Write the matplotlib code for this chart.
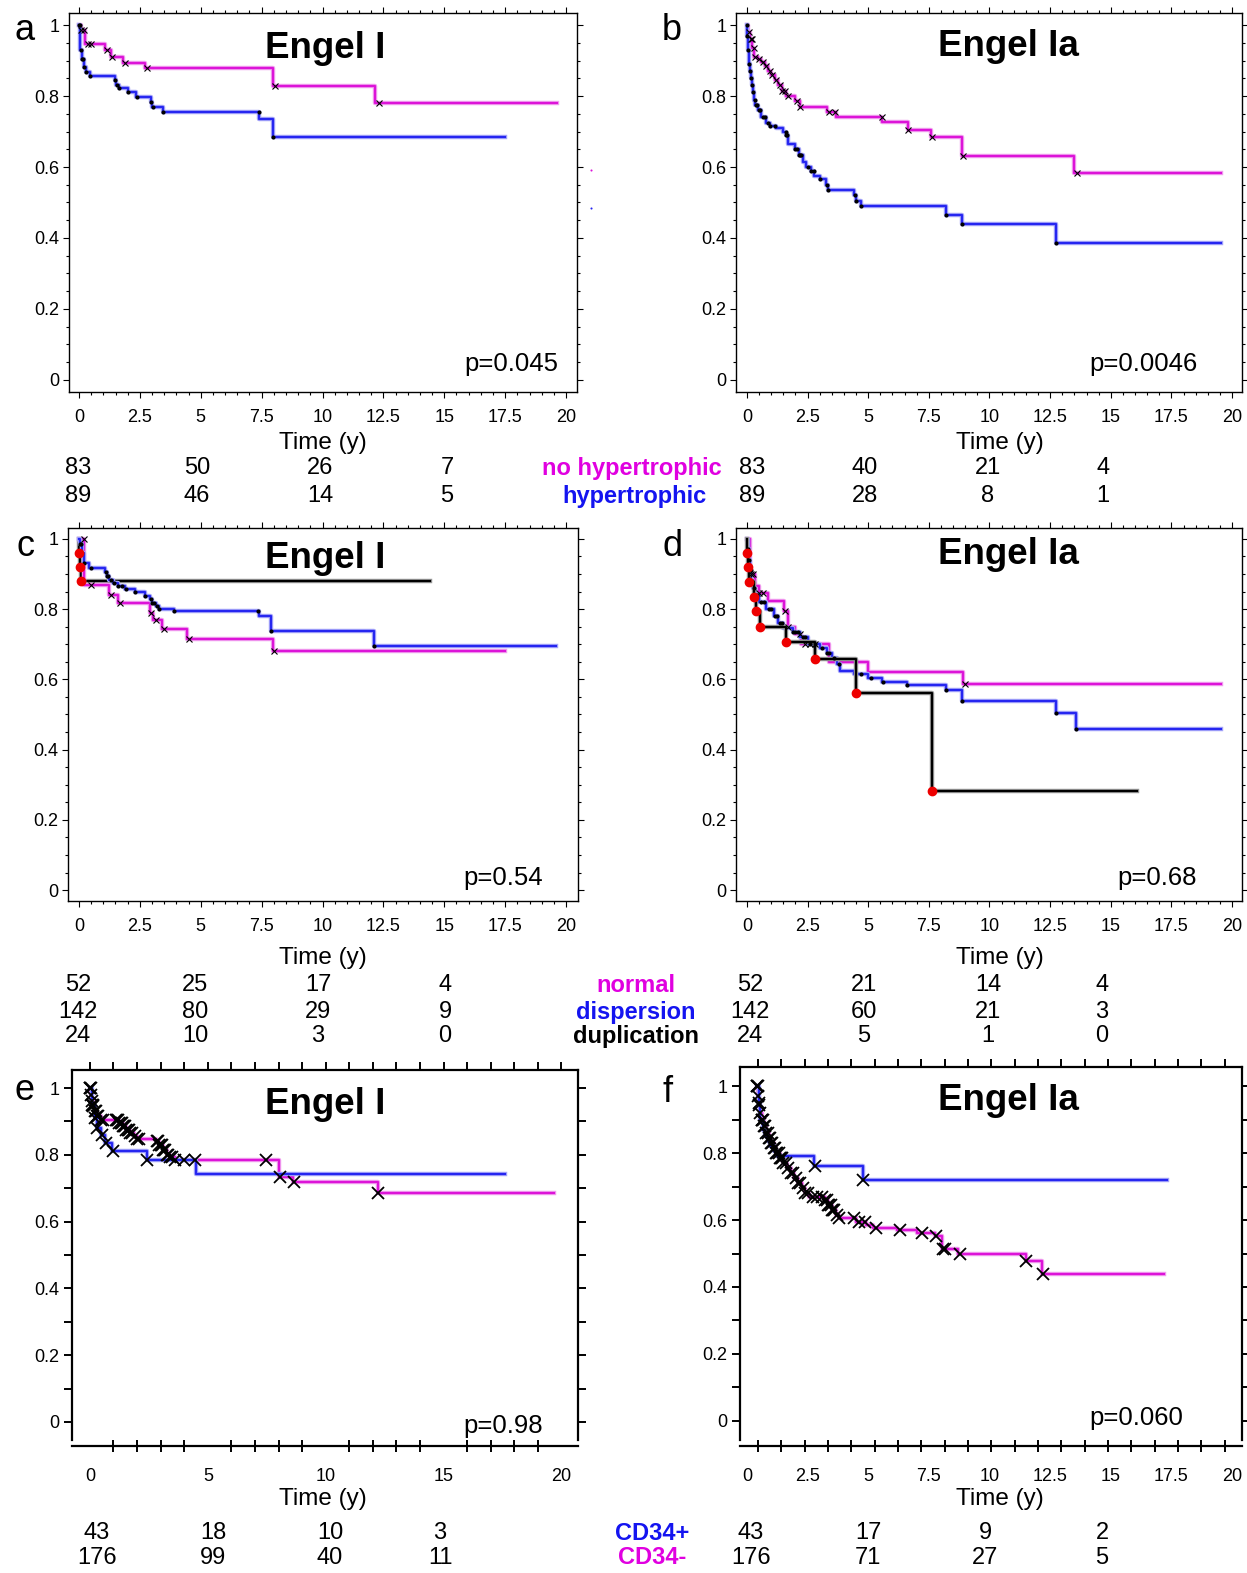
import numpy as np
import matplotlib
matplotlib.use("Agg")
import matplotlib.pyplot as plt
import matplotlib.patheffects as pe
from matplotlib.lines import Line2D

plt.rcParams['font.family'] = ['Liberation Sans', 'DejaVu Sans']

W, H = 1247, 1573
MAG = '#dc14d8'
BLU = '#2626f0'
MAG_T = '#e000e0'
BLU_T = '#1414f0'

# ---------------- data ----------------
# panel a : Engel I, no hypertrophic / hypertrophic
a_mag_t = [0.08, 0.23, 1.07, 1.3, 1.8, 2.72, 7.96, 12.16]
a_mag_s = [0.986, 0.947, 0.93, 0.911, 0.894, 0.88, 0.829, 0.779]
a_mag_end = 19.64
a_mag_c = [0.1, 0.22, 0.35, 0.5, 1.15, 1.35, 1.87, 2.8, 8.05, 12.3]
a_blu_t = [0.04, 0.12, 0.2, 0.28, 0.44, 1.46, 1.54, 1.65, 2.0, 2.36, 2.96, 3.0, 3.43, 7.4, 7.96]
a_blu_s = [0.93, 0.903, 0.883, 0.868, 0.857, 0.845, 0.831, 0.822, 0.812, 0.796, 0.784, 0.77, 0.755, 0.735, 0.685]
a_blu_end = 17.5
a_blu_c = [0.0, 0.03, 0.07, 0.12, 0.17, 0.22, 0.28, 0.45, 1.47, 1.55, 1.65, 2.02, 2.37, 2.97, 3.02, 3.45, 7.38, 7.97]

# panel b : Engel Ia, no hypertrophic / hypertrophic
b_mag_t = [0.05, 0.12, 0.22, 0.3, 0.45, 0.6, 0.75, 0.88, 1.0, 1.15, 1.3, 1.45, 1.6, 2.0, 2.2,
           3.3, 3.66, 5.56, 6.63, 7.59, 8.86, 13.5]
b_mag_s = [0.98, 0.96, 0.935, 0.91, 0.905, 0.895, 0.885, 0.87, 0.86, 0.845, 0.83, 0.815, 0.80, 0.785, 0.77,
           0.755, 0.74, 0.726, 0.704, 0.684, 0.632, 0.582]
b_mag_end = 19.55
b_mag_c = [0.1, 0.15, 0.2, 0.28, 0.35, 0.5, 0.65, 0.8, 0.95, 1.05, 1.2, 1.35, 1.45, 1.55, 1.7, 2.05, 2.2,
           3.4, 3.65, 5.55, 6.65, 7.65, 8.9, 13.6]
b_blu_t = [0.02, 0.05, 0.08, 0.12, 0.16, 0.2, 0.25, 0.3, 0.35, 0.45, 0.6, 0.78, 0.95, 1.2, 1.5, 1.62, 1.7,
           2.0, 2.15, 2.3, 2.45, 2.65, 2.78, 3.0, 3.25, 3.33, 4.4, 4.5, 4.7, 8.2, 8.86, 12.74]
b_blu_s = [0.97, 0.93, 0.89, 0.87, 0.85, 0.83, 0.81, 0.79, 0.775, 0.76, 0.74, 0.725, 0.715, 0.71, 0.70, 0.69,
           0.665, 0.65, 0.635, 0.615, 0.60, 0.59, 0.575, 0.565, 0.55, 0.535, 0.52, 0.505, 0.49, 0.465, 0.44, 0.385]
b_blu_end = 19.55
b_blu_c = [0.0, 0.02, 0.05, 0.1, 0.13, 0.18, 0.22, 0.27, 0.32, 0.38, 0.42, 0.5, 0.55, 0.65, 0.75, 0.85, 0.95,
           1.15, 1.6, 1.62, 1.65, 2.0, 2.05, 2.15, 2.2, 2.25, 2.5, 2.65, 2.75, 3.0, 3.3, 3.35, 4.45, 4.5, 4.7,
           8.2, 8.86, 12.75]

# panel c : Engel I, normal / dispersion / duplication
c_mag_t = [0.21, 1.25, 1.6, 2.9, 3.05, 3.4, 4.45, 7.95]
c_mag_s = [0.868, 0.84, 0.817, 0.79, 0.77, 0.744, 0.716, 0.68]
c_mag_end = 17.5
c_mag_c = [0.2, 0.5, 1.3, 1.7, 2.95, 3.15, 3.5, 4.5, 8.0]
c_blu_t = [0.05, 0.12, 0.2, 0.4, 1.05, 1.15, 1.25, 1.4, 1.6, 1.9, 2.3, 2.7, 2.9, 3.0, 3.15, 3.3, 3.9,
           7.4, 7.9, 12.1]
c_blu_s = [0.985, 0.96, 0.93, 0.917, 0.905, 0.893, 0.882, 0.873, 0.865, 0.856, 0.848, 0.838, 0.828, 0.818,
           0.808, 0.80, 0.794, 0.78, 0.737, 0.696]
c_blu_end = 19.6
c_blu_c = [0.05, 0.1, 0.2, 0.5, 1.1, 1.15, 1.2, 1.3, 1.45, 1.6, 1.75, 1.95, 2.3, 2.7, 2.95, 3.0, 3.1, 3.2,
           3.3, 3.9, 7.35, 7.9, 12.1]
c_blk_t = [0.02, 0.05, 0.1]
c_blk_s = [0.96, 0.92, 0.88]
c_blk_end = 14.4

# panel d : Engel Ia, normal / dispersion / duplication
d_mag_t = [0.12, 0.35, 0.5, 0.85, 1.52, 1.7, 2.0, 2.25, 3.4, 5.0, 8.9]
d_mag_s = [0.90, 0.865, 0.845, 0.824, 0.795, 0.75, 0.73, 0.70, 0.65, 0.621, 0.586]
d_mag_end = 19.55
d_mag_c = [0.15, 0.25, 0.5, 0.65, 1.55, 1.7, 2.2, 2.4, 2.6, 2.8, 9.0]
d_blu_t = [0.03, 0.08, 0.12, 0.18, 0.25, 0.35, 0.5, 0.8, 1.1, 1.3, 1.5, 1.9, 2.2, 2.5, 3.0, 3.3, 3.5, 3.7,
           3.85, 4.4, 5.0, 5.55, 6.6, 8.2, 8.85, 12.75, 13.55]
d_blu_s = [0.97, 0.94, 0.91, 0.88, 0.86, 0.84, 0.82, 0.80, 0.78, 0.76, 0.745, 0.735, 0.72, 0.70, 0.69, 0.675,
           0.66, 0.645, 0.624, 0.614, 0.605, 0.593, 0.584, 0.571, 0.538, 0.505, 0.459]
d_blu_end = 19.55
d_blu_c = [0.05, 0.1, 0.15, 0.2, 0.3, 0.4, 0.6, 0.7, 0.9, 1.0, 1.15, 1.25, 1.35, 1.45, 1.9, 2.0, 2.1, 2.3,
           2.4, 2.6, 2.8, 3.1, 3.3, 3.4, 3.6, 3.8, 4.7, 5.1, 5.6, 6.6, 8.2, 8.85, 12.75, 13.55]
d_blk_t = [0.02, 0.05, 0.1, 0.28, 0.36, 0.53, 1.63, 2.79, 4.49, 7.62]
d_blk_s = [0.96, 0.92, 0.878, 0.835, 0.795, 0.75, 0.707, 0.657, 0.562, 0.281]
d_blk_end = 16.1

# panel e : Engel I, CD34+ / CD34-
e_mag_t = [0.05, 0.1, 0.15, 0.2, 0.3, 0.45, 1.25, 1.4, 1.55, 1.7, 1.85, 2.0, 2.8, 2.95, 3.1, 3.25, 3.4,
           3.6, 8.0, 8.6, 12.2]
e_mag_s = [0.98, 0.96, 0.945, 0.93, 0.915, 0.905, 0.895, 0.885, 0.875, 0.865, 0.855, 0.848, 0.84, 0.83,
           0.815, 0.80, 0.792, 0.785, 0.735, 0.72, 0.685]
e_mag_end = 19.7
e_mag_c = [0.0, 0.05, 0.1, 0.15, 0.2, 0.25, 0.3, 0.35, 0.45, 0.55, 1.1, 1.15, 1.2, 1.25, 1.3, 1.35, 1.4,
           1.45, 1.5, 1.55, 1.6, 1.65, 1.7, 1.8, 1.9, 2.0, 2.1, 2.85, 2.9, 2.95, 3.0, 3.05, 3.1, 3.15, 3.2,
           3.25, 3.3, 3.4, 3.5, 3.6, 4.0, 7.45, 8.05, 8.65, 12.2]
e_blu_t = [0.1, 0.2, 0.3, 0.45, 0.65, 0.95, 2.4, 4.5]
e_blu_s = [0.95, 0.91, 0.88, 0.86, 0.835, 0.81, 0.785, 0.742]
e_blu_end = 17.6
e_blu_c = [0.0, 0.05, 0.1, 0.15, 0.2, 0.3, 0.5, 0.7, 1.0, 2.4, 4.45]

# panel f : Engel Ia, CD34+ / CD34-
f_start = 0.4
f_mag_t = [0.45, 0.5, 0.55, 0.6, 0.7, 0.8, 0.9, 1.0, 1.1, 1.2, 1.35, 1.5, 1.65, 1.8, 1.95, 2.1, 2.25, 2.4,
           2.55, 3.2, 3.35, 3.5, 3.65, 3.8, 4.5, 4.9, 5.2, 6.2, 7.0, 7.75, 8.05, 8.7, 11.5, 12.15]
f_mag_s = [0.97, 0.945, 0.92, 0.9, 0.88, 0.86, 0.845, 0.83, 0.815, 0.80, 0.785, 0.77, 0.755, 0.74, 0.725,
           0.71, 0.695, 0.68, 0.67, 0.66, 0.645, 0.63, 0.615, 0.605, 0.595, 0.585, 0.575, 0.57, 0.56, 0.553,
           0.512, 0.50, 0.477, 0.44]
f_mag_end = 17.2
f_mag_c = [0.4, 0.45, 0.5, 0.55, 0.6, 0.65, 0.7, 0.75, 0.8, 0.85, 0.9, 0.95, 1.0, 1.05, 1.1, 1.15, 1.2,
           1.25, 1.3, 1.35, 1.4, 1.45, 1.5, 1.6, 1.7, 1.8, 1.9, 2.0, 2.1, 2.2, 2.3, 2.4, 2.5, 2.7, 2.9, 3.1,
           3.2, 3.3, 3.35, 3.4, 3.45, 3.5, 3.55, 3.6, 3.7, 3.8, 4.4, 4.6, 4.85, 5.3, 6.3, 7.2, 7.8, 8.1, 8.15,
           8.8, 11.5, 12.2]
f_blu_t = [0.5, 0.55, 0.65, 0.75, 0.85, 0.95, 1.1, 1.25, 2.75, 4.8]
f_blu_s = [0.95, 0.9, 0.87, 0.85, 0.835, 0.82, 0.805, 0.79, 0.761, 0.721]
f_blu_end = 17.3
f_blu_c = [0.4, 0.45, 0.5, 0.6, 2.8, 4.8]

# numbers at risk
risk_ab_left = [["83", "50", "26", "7"], ["89", "46", "14", "5"]]
risk_ab_right = [["83", "40", "21", "4"], ["89", "28", "8", "1"]]
groups_ab = ["no hypertrophic", "hypertrophic"]
risk_cd_left = [["52", "25", "17", "4"], ["142", "80", "29", "9"], ["24", "10", "3", "0"]]
risk_cd_right = [["52", "21", "14", "4"], ["142", "60", "21", "3"], ["24", "5", "1", "0"]]
groups_cd = ["normal", "dispersion", "duplication"]
risk_ef_left = [["43", "18", "10", "3"], ["176", "99", "40", "11"]]
risk_ef_right = [["43", "17", "9", "2"], ["176", "71", "27", "5"]]
groups_ef = ["CD34+", "CD34-"]

p_values = ["p=0.045", "p=0.0046", "p=0.54", "p=0.68", "p=0.98", "p=0.060"]
titles = ["Engel I", "Engel Ia", "Engel I", "Engel Ia", "Engel I", "Engel Ia"]


# ---------------- helpers ----------------
def fx(x):
    return x / W


def fy(y):
    return 1 - y / H


def add_ax(l, r, t, b):
    return fig.add_axes([fx(l), fy(b), (r - l) / W, (b - t) / H])


def light(c):
    rgb = np.array(matplotlib.colors.to_rgb(c))
    return tuple(rgb + (1 - rgb) * 0.6)


def km(ax, times, surv, end, color, cens=None, mk='x', ms=4, mew=0.8, start=0.0, lw=1.6):
    x = [start] + list(times) + [end]
    y = [1.0] + list(surv) + [surv[-1]]
    ax.step(x, y, where='post', color=color, lw=lw, zorder=3,
            path_effects=[pe.Stroke(linewidth=lw + 1.6, foreground=light(color)), pe.Normal()])
    if cens:
        idx = np.searchsorted(times, cens, side='right') - 1
        cy = [surv[i] if i >= 0 else 1.0 for i in idx]
        if mk == 'x':
            ax.plot(cens, cy, ls='none', marker='x', ms=ms, mew=mew, color='black', zorder=4)
        else:
            ax.plot(cens, cy, ls='none', marker='o', ms=ms, mew=0, color='black', zorder=4)


def style_top(ax, xl, yl):
    ax.set_xlim(*xl)
    ax.set_ylim(*yl)
    ax.set_xticks(np.arange(0, 20.1, 2.5))
    ax.set_xticklabels(['0', '2.5', '5', '7.5', '10', '12.5', '15', '17.5', '20'])
    ax.set_xticks(np.arange(0, 20.1, 0.5), minor=True)
    ax.set_yticks(np.arange(0, 1.01, 0.2))
    ax.set_yticklabels(['0', '0.2', '0.4', '0.6', '0.8', '1'])
    ax.set_yticks(np.arange(0, 1.01, 0.05), minor=True)
    ax.tick_params(which='both', direction='out', top=True, right=True, width=0.8, labelsize=13)
    ax.tick_params(which='major', length=4)
    ax.tick_params(which='minor', length=2)
    ax.tick_params(axis='x', pad=8)
    ax.tick_params(axis='y', pad=3)
    for s in ax.spines.values():
        s.set_linewidth(1.0)


def style_bottom(ax, xl, yl, xlabels, tickpos):
    ax.set_xlim(*xl)
    ax.set_ylim(*yl)
    ax.set_xticks(xlabels)
    ax.set_xticklabels([('%g' % v) for v in xlabels])
    ax.set_xticks(tickpos, minor=True)
    ax.tick_params(axis='x', which='major', length=0, pad=16, labelsize=13)
    ax.tick_params(axis='x', which='minor', direction='inout', length=9, width=1.4)
    ax.set_yticks(np.arange(0, 1.01, 0.2))
    ax.set_yticklabels(['0', '0.2', '0.4', '0.6', '0.8', '1'])
    ax.set_yticks(np.arange(0.1, 1.0, 0.2), minor=True)
    ax.tick_params(axis='y', which='both', direction='out', length=6, width=1.4, right=True,
                   labelsize=13, pad=3)
    for s in ax.spines.values():
        s.set_linewidth(1.6)
    ax.spines['bottom'].set_position(('outward', 4))
    sec = ax.secondary_xaxis('top')
    sec.set_xticks(tickpos)
    sec.set_xticklabels([])
    sec.tick_params(direction='out', length=6, width=1.4)
    sec.spines['top'].set_visible(False)


def risk_rows(rows, xs, ys):
    for row, y in zip(rows, ys):
        for txt, x in zip(row, xs):
            fig.text(fx(x), fy(y + 5), txt, ha='center', va='center', fontsize=17)


fig = plt.figure(figsize=(W / 100, H / 100), dpi=100)

# ---------------- panel a ----------------
ax_a = add_ax(69, 577, 13, 392)
km(ax_a, a_mag_t, a_mag_s, a_mag_end, MAG, a_mag_c, 'x', 4, 0.8)
km(ax_a, a_blu_t, a_blu_s, a_blu_end, BLU, a_blu_c, 'o', 3.0)
style_top(ax_a, (-0.41, 20.45), (-0.034, 1.034))

# ---------------- panel b ----------------
ax_b = add_ax(736, 1242, 13, 392)
km(ax_b, b_mag_t, b_mag_s, b_mag_end, MAG, b_mag_c, 'x', 4, 0.8)
km(ax_b, b_blu_t, b_blu_s, b_blu_end, BLU, b_blu_c, 'o', 3.0)
style_top(ax_b, (-0.45, 20.41), (-0.034, 1.034))

# ---------------- panel c ----------------
ax_c = add_ax(68, 578, 528, 901)
km(ax_c, c_blk_t, c_blk_s, c_blk_end, 'black')
km(ax_c, c_mag_t, c_mag_s, c_mag_end, MAG, c_mag_c, 'x', 4, 0.8)
km(ax_c, c_blu_t, c_blu_s, c_blu_end, BLU, c_blu_c, 'o', 3.0)
ax_c.plot(c_blk_t, c_blk_s, ls='none', marker='o', ms=6, color='#ee0000', zorder=5)
style_top(ax_c, (-0.45, 20.49), (-0.031, 1.031))

# ---------------- panel d ----------------
ax_d = add_ax(736, 1242, 528, 901)
km(ax_d, d_mag_t, d_mag_s, d_mag_end, MAG, d_mag_c, 'x', 4, 0.8)
km(ax_d, d_blu_t, d_blu_s, d_blu_end, BLU, d_blu_c, 'o', 3.0)
km(ax_d, d_blk_t, d_blk_s, d_blk_end, 'black')
ax_d.plot(d_blk_t, d_blk_s, ls='none', marker='o', ms=6, color='#ee0000', zorder=5)
style_top(ax_d, (-0.45, 20.41), (-0.031, 1.031))

# ---------------- panel e ----------------
ax_e = add_ax(72, 578, 1070, 1440)
km(ax_e, e_mag_t, e_mag_s, e_mag_end, MAG, e_mag_c, 'x', 8, 1.3)
km(ax_e, e_blu_t, e_blu_s, e_blu_end, BLU, e_blu_c, 'x', 8, 1.3)
style_bottom(ax_e, (-0.76, 20.7), (-0.054, 1.054), [0, 5, 10, 15, 20], np.arange(0, 20.1, 1.0))

# ---------------- panel f ----------------
ax_f = add_ax(740, 1242, 1067, 1440)
km(ax_f, f_mag_t, f_mag_s, f_mag_end, MAG, f_mag_c, 'x', 8, 1.3, start=f_start)
km(ax_f, f_blu_t, f_blu_s, f_blu_end, BLU, f_blu_c, 'x', 8, 1.3, start=f_start)
style_bottom(ax_f, (-0.29, 20.41), (-0.057, 1.057), [0, 2.5, 5, 7.5, 10, 12.5, 15, 17.5, 20],
             np.linspace(0.45, 19.7, 21))

# ---------------- texts ----------------
letters = [("a", 25, 30), ("b", 672, 30), ("c", 25, 547), ("d", 672, 547), ("e", 25, 1090), ("f", 668, 1092)]
for s, x, y in letters:
    fig.text(fx(x), fy(y), s, ha='center', va='center', fontsize=26)

title_pos = [(325, 49), (1008, 46), (325, 558), (1008, 554), (325, 1104), (1008, 1100)]
for s, (x, y) in zip(titles, title_pos):
    fig.text(fx(x), fy(y), s, ha='center', va='center', fontsize=26.5, fontweight='bold')

p_pos = [(558, 364), (1198, 364), (543, 878), (1197, 878), (543, 1426), (1183, 1418)]
for s, (x, y) in zip(p_values, p_pos):
    fig.text(fx(x), fy(y), s, ha='right', va='center', fontsize=18.5)

for x, y in [(323, 443), (1000, 443), (323, 958), (1000, 958), (323, 1499), (1000, 1499)]:
    fig.text(fx(x), fy(y), "Time (y)", ha='center', va='center', fontsize=17.5)

risk_rows(risk_ab_left, [78, 197, 320, 447], [463, 491])
risk_rows(risk_ab_right, [752, 865, 988, 1103], [463, 491])
risk_rows(risk_cd_left, [78, 195, 318, 445], [980, 1007, 1031])
risk_rows(risk_cd_right, [750, 864, 988, 1102], [980, 1007, 1031])
risk_rows(risk_ef_left, [97, 213, 330, 440], [1528, 1553])
risk_rows(risk_ef_right, [751, 868, 985, 1102], [1528, 1553])

for s, c, x, y in zip(groups_ab, [MAG_T, BLU_T], [722, 707], [463, 491]):
    fig.text(fx(x), fy(y + 5), s, ha='right', va='center', fontsize=17, fontweight='bold', color=c)
for s, c, y in zip(groups_cd, [MAG_T, BLU_T, 'black'], [980, 1007, 1031]):
    fig.text(fx(636), fy(y + 5), s, ha='center', va='center', fontsize=17, fontweight='bold', color=c)
for s, c, y in zip(groups_ef, [BLU_T, MAG_T], [1528, 1553]):
    fig.text(fx(652), fy(y + 5), s, ha='center', va='center', fontsize=17, fontweight='bold', color=c)

# stray legend dots at the right of panel a
for c, y in [(MAG, 170), (BLU, 208)]:
    fig.add_artist(Line2D([fx(591)], [fy(y)], marker='o', ms=1.5, mew=0, color=c,
                          transform=fig.transFigure))

fig.savefig("out.png", dpi=100)
